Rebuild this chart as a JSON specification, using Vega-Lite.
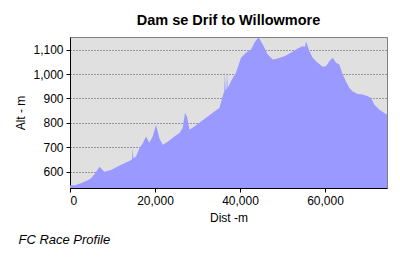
{
  "$schema": "https://vega.github.io/schema/vega-lite/v6.json",
  "background": "white",
  "padding": {"left": 14, "top": 12, "right": 13, "bottom": 8},
  "config": {
    "font": "Liberation Sans",
    "view": {"fill": "#e0e0e0", "stroke": "#808080", "strokeWidth": 1},
    "axis": {
      "domainColor": "#000000",
      "tickColor": "#000000",
      "tickSize": 4,
      "labelFont": "Liberation Sans",
      "labelFontSize": 12,
      "labelColor": "#000000",
      "labelPadding": 3,
      "titleFont": "Liberation Sans",
      "titleFontSize": 12,
      "titleFontWeight": "normal",
      "titleColor": "#000000"
    }
  },
  "title": {
    "text": "FC Race Profile",
    "orient": "bottom",
    "anchor": "start",
    "frame": "bounds",
    "font": "Liberation Sans",
    "fontSize": 13,
    "fontStyle": "italic",
    "fontWeight": "normal",
    "color": "#000000",
    "offset": 10,
    "dx": 4
  },
  "vconcat": [
    {
      "width": 317,
      "height": 151,
      "title": {
        "text": "Dam se Drif to Willowmore",
        "font": "Liberation Sans",
        "fontSize": 14.5,
        "fontWeight": "bold",
        "color": "#000000",
        "anchor": "middle",
        "offset": 9
      },
      "data": {
        "values": [
          {"dist": 0, "alt": 543},
          {"dist": 235, "alt": 545},
          {"dist": 1000, "alt": 543},
          {"dist": 1812, "alt": 548},
          {"dist": 2600, "alt": 552},
          {"dist": 3388, "alt": 559},
          {"dist": 4200, "alt": 565},
          {"dist": 4941, "alt": 573},
          {"dist": 5900, "alt": 592},
          {"dist": 6918, "alt": 620},
          {"dist": 8094, "alt": 600},
          {"dist": 9647, "alt": 607},
          {"dist": 11224, "alt": 621},
          {"dist": 12800, "alt": 634},
          {"dist": 13977, "alt": 644},
          {"dist": 14600, "alt": 650},
          {"dist": 14753, "alt": 696},
          {"dist": 14900, "alt": 655},
          {"dist": 15530, "alt": 662},
          {"dist": 16330, "alt": 696},
          {"dist": 17100, "alt": 715},
          {"dist": 17883, "alt": 744},
          {"dist": 18683, "alt": 718},
          {"dist": 19460, "alt": 744},
          {"dist": 20236, "alt": 792},
          {"dist": 21036, "alt": 737},
          {"dist": 21813, "alt": 710},
          {"dist": 22989, "alt": 723},
          {"dist": 24566, "alt": 744},
          {"dist": 25742, "alt": 758},
          {"dist": 26519, "alt": 779},
          {"dist": 27060, "alt": 840},
          {"dist": 27531, "alt": 826},
          {"dist": 28095, "alt": 772},
          {"dist": 29272, "alt": 785},
          {"dist": 30825, "alt": 806},
          {"dist": 32401, "alt": 826},
          {"dist": 33978, "alt": 847},
          {"dist": 35154, "alt": 861},
          {"dist": 35931, "alt": 909},
          {"dist": 36300, "alt": 930},
          {"dist": 36450, "alt": 1012},
          {"dist": 36600, "alt": 935},
          {"dist": 36850, "alt": 940},
          {"dist": 36950, "alt": 1010},
          {"dist": 37107, "alt": 943},
          {"dist": 38284, "alt": 984},
          {"dist": 39060, "alt": 1005},
          {"dist": 40237, "alt": 1067},
          {"dist": 41413, "alt": 1087},
          {"dist": 42590, "alt": 1101},
          {"dist": 43390, "alt": 1128},
          {"dist": 44331, "alt": 1151},
          {"dist": 44943, "alt": 1135},
          {"dist": 45743, "alt": 1108},
          {"dist": 46520, "alt": 1080},
          {"dist": 47696, "alt": 1060},
          {"dist": 48873, "alt": 1064},
          {"dist": 50449, "alt": 1073},
          {"dist": 52002, "alt": 1087},
          {"dist": 53579, "alt": 1105},
          {"dist": 54755, "alt": 1114},
          {"dist": 55300, "alt": 1112},
          {"dist": 55532, "alt": 1135},
          {"dist": 56332, "alt": 1094},
          {"dist": 57108, "alt": 1067},
          {"dist": 58285, "alt": 1046},
          {"dist": 59461, "alt": 1030},
          {"dist": 60238, "alt": 1032},
          {"dist": 61038, "alt": 1053},
          {"dist": 61815, "alt": 1067},
          {"dist": 62591, "alt": 1046},
          {"dist": 63391, "alt": 1039},
          {"dist": 64168, "alt": 998},
          {"dist": 64944, "alt": 970},
          {"dist": 65744, "alt": 943},
          {"dist": 66521, "alt": 929},
          {"dist": 67697, "alt": 918},
          {"dist": 68874, "alt": 916},
          {"dist": 70050, "alt": 909},
          {"dist": 70827, "alt": 902},
          {"dist": 71627, "alt": 874},
          {"dist": 72803, "alt": 854},
          {"dist": 73980, "alt": 840},
          {"dist": 74590, "alt": 833}
        ]
      },
      "mark": {"type": "area", "color": "#9999ff", "clip": true, "interpolate": "linear"},
      "encoding": {
        "x": {
          "field": "dist",
          "type": "quantitative",
          "scale": {"domain": [0, 74590], "nice": false, "zero": false},
          "axis": {
            "title": "Dist -m",
            "values": [0, 20000, 40000, 60000],
            "format": ",d",
            "grid": false,
            "titlePadding": 6
          }
        },
        "y": {
          "field": "alt",
          "type": "quantitative",
          "scale": {"domain": [533, 1152], "nice": false, "zero": false},
          "axis": {
            "title": "Alt - m",
            "values": [600, 700, 800, 900, 1000, 1100],
            "format": ",d",
            "grid": true,
            "gridColor": "#505050",
            "gridDash": [1, 2],
            "gridWidth": 1,
            "titlePadding": 5
          }
        }
      }
    }
  ]
}
